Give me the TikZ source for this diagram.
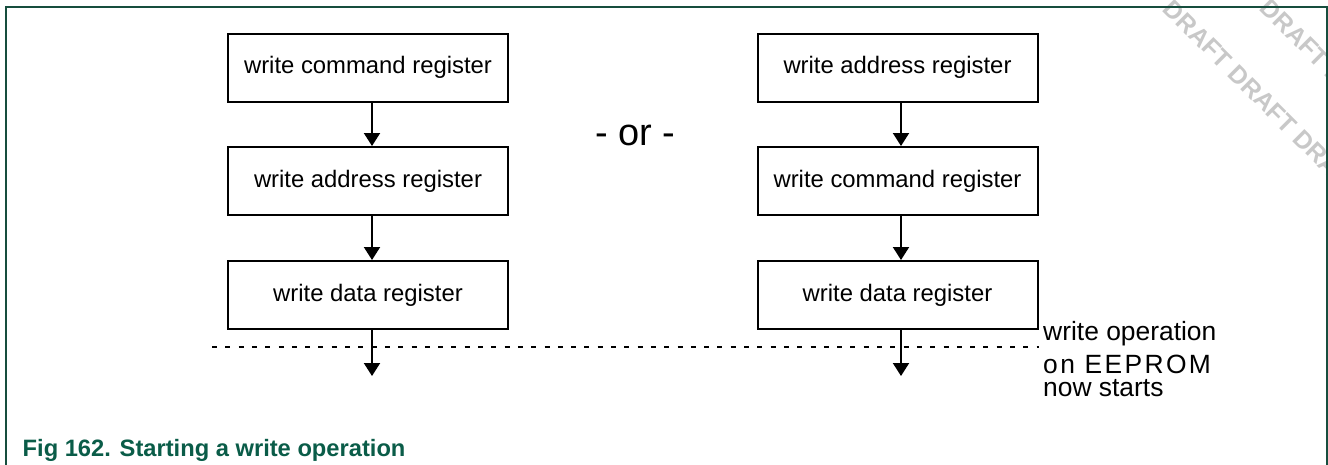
\documentclass[tikz,border=0pt]{standalone}
\usepackage{fontspec}
\setmainfont{Liberation Sans}
\usetikzlibrary{arrows.meta}
\definecolor{framegreen}{RGB}{22,78,62}
\definecolor{capgreen}{RGB}{10,92,72}
\definecolor{wmgray}{RGB}{200,200,200}
\begin{document}
\begin{tikzpicture}[x=1pt,y=-1pt,
  box/.style={draw, line width=2pt, minimum width=280pt, minimum height=68pt, inner sep=0pt, font=\fontsize{23.85}{28}\selectfont},
  arr/.style={line width=2pt, -{Triangle[width=16pt,length=13pt]}},
  wm/.style={text=wmgray, rotate=-45, inner sep=0pt, anchor=base west, font=\bfseries\fontsize{25}{25}\selectfont},
  plain/.style={inner sep=0pt, anchor=base west}]
\useasboundingbox (0,0) rectangle (1328,464);
\clip (0,0) rectangle (1328,464);
% watermark
\node[wm] (wa) at (1161.6,10.4) {DRAFT DRAFT DRAFT};
\node[wm] (wb) at (1258.6,9.4) {DRAFT DRAFT};
% frame
\draw[framegreen, line width=1.5pt] (6,470) -- (6,7) -- (1326.8,7) -- (1326.8,470);
% boxes
\node[box] (l1) at (368,67.5) {write command register};
\node[box] (l2) at (368,181) {write address register};
\node[box] (l3) at (368,295) {write data register};
\node[box] (r1) at (897.5,67.5) {write address register};
\node[box] (r2) at (897.5,181) {write command register};
\node[box] (r3) at (897.5,295) {write data register};
% dashed line
\coordinate (dl) at (212,347);
\draw[line width=1.6pt, dash pattern=on 5pt off 8.3pt] (dl) -- (dl -| r3.east);
% arrows
\draw[arr] ([xshift=4pt]l1.south) -- ([xshift=4pt]l2.north);
\draw[arr] ([xshift=4pt]l2.south) -- ([xshift=4pt]l3.north);
\draw[arr] ([xshift=3.5pt]r1.south) -- ([xshift=3.5pt]r2.north);
\draw[arr] ([xshift=3.5pt]r2.south) -- ([xshift=3.5pt]r3.north);
\coordinate (le) at (372,376);
\coordinate (re) at (901,376);
\draw[arr] ([xshift=4pt]l3.south) -- (le);
\draw[arr] ([xshift=3.5pt]r3.south) -- (re);
% texts
\node[plain, font=\fontsize{38}{38}\selectfont] (or) at (595,145) {- or -};
\node[plain, align=left, font=\fontsize{26.4}{26.4}\selectfont] (lab) at (1043,396.7)
  {write operation\\[6.3pt]{\addfontfeature{LetterSpace=9}on EEPROM}\\[-3.3pt]now starts};
\node[plain, text=capgreen, font=\bfseries\fontsize{23.7}{28}\selectfont] (cap) at (22.5,456) {Fig 162. Starting a write operation};
\end{tikzpicture}
\end{document}
